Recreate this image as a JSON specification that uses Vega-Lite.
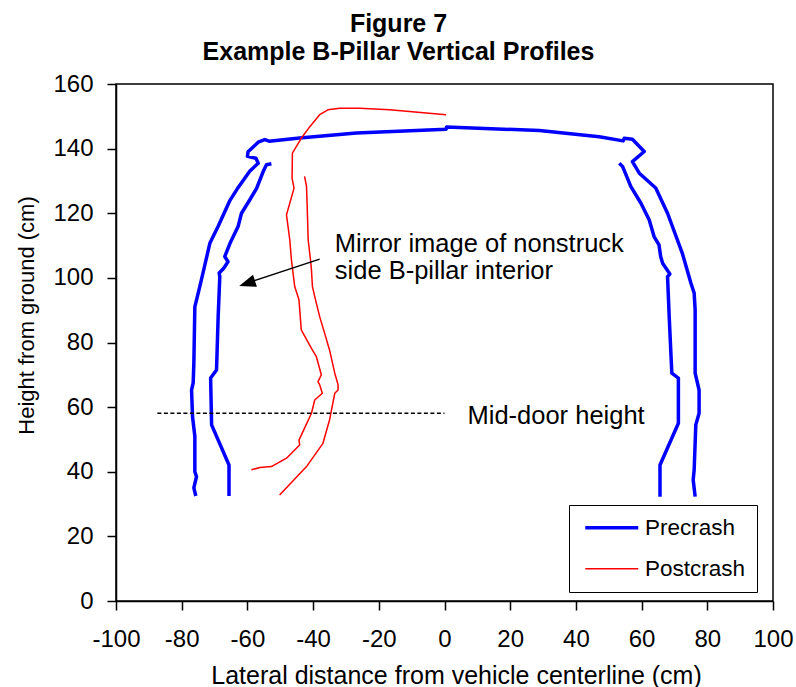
{
  "$schema": "https://vega.github.io/schema/vega-lite/v6.json",
  "autosize": {"type": "none"},
  "padding": {"left": 116, "top": 84, "right": 23, "bottom": 86},
  "width": 657,
  "height": 517,
  "background": "white",
  "title": {
    "text": ["Figure 7", "Example B-Pillar Vertical Profiles"],
    "font": "Liberation Sans",
    "fontSize": 25,
    "fontWeight": "bold",
    "color": "black",
    "anchor": "middle",
    "frame": "group",
    "dx": -46,
    "offset": 7,
    "lineHeight": 28
  },
  "config": {
    "view": {"stroke": "black", "strokeWidth": 1.5},
    "font": "Liberation Sans",
    "axis": {
      "domainColor": "black",
      "domainWidth": 1.5,
      "tickColor": "black",
      "tickWidth": 1.5,
      "tickSize": 9,
      "grid": false,
      "labelFont": "Liberation Sans",
      "labelFontSize": 24,
      "labelColor": "black",
      "labelOverlap": false,
      "labelFlush": false,
      "titleFont": "Liberation Sans",
      "titleFontWeight": "normal",
      "titleColor": "black"
    },
    "legend": {
      "labelFont": "Liberation Sans",
      "labelFontSize": 22.5,
      "labelColor": "black"
    }
  },
  "datasets": {
    "curves": [
      {"series": "Precrash", "seg": "outer", "x": -75.7, "y": 32.5},
      {"series": "Precrash", "seg": "outer", "x": -76.3, "y": 35},
      {"series": "Precrash", "seg": "outer", "x": -75.5, "y": 38.5},
      {"series": "Precrash", "seg": "outer", "x": -76, "y": 40},
      {"series": "Precrash", "seg": "outer", "x": -76, "y": 51},
      {"series": "Precrash", "seg": "outer", "x": -76.7, "y": 57},
      {"series": "Precrash", "seg": "outer", "x": -77, "y": 65.3},
      {"series": "Precrash", "seg": "outer", "x": -76.5, "y": 67.5},
      {"series": "Precrash", "seg": "outer", "x": -76.3, "y": 73.7},
      {"series": "Precrash", "seg": "outer", "x": -76, "y": 91},
      {"series": "Precrash", "seg": "outer", "x": -74.5, "y": 97.3},
      {"series": "Precrash", "seg": "outer", "x": -73.3, "y": 102.5},
      {"series": "Precrash", "seg": "outer", "x": -71.4, "y": 110.8},
      {"series": "Precrash", "seg": "outer", "x": -68.9, "y": 116},
      {"series": "Precrash", "seg": "outer", "x": -65.3, "y": 124},
      {"series": "Precrash", "seg": "outer", "x": -62.8, "y": 128},
      {"series": "Precrash", "seg": "outer", "x": -59.3, "y": 133},
      {"series": "Precrash", "seg": "outer", "x": -56.7, "y": 135.5},
      {"series": "Precrash", "seg": "outer", "x": -57.4, "y": 137},
      {"series": "Precrash", "seg": "outer", "x": -60, "y": 137.6},
      {"series": "Precrash", "seg": "outer", "x": -59.8, "y": 139},
      {"series": "Precrash", "seg": "outer", "x": -56.7, "y": 142},
      {"series": "Precrash", "seg": "outer", "x": -54.7, "y": 142.8},
      {"series": "Precrash", "seg": "outer", "x": -53.4, "y": 142.3},
      {"series": "Precrash", "seg": "outer", "x": -44.1, "y": 143.3},
      {"series": "Precrash", "seg": "outer", "x": -26.8, "y": 144.8},
      {"series": "Precrash", "seg": "outer", "x": 0.5, "y": 146.0},
      {"series": "Precrash", "seg": "outer", "x": 0.6, "y": 146.7},
      {"series": "Precrash", "seg": "outer", "x": 28.9, "y": 145.6},
      {"series": "Precrash", "seg": "outer", "x": 47.1, "y": 143.7},
      {"series": "Precrash", "seg": "outer", "x": 54.4, "y": 142.4},
      {"series": "Precrash", "seg": "outer", "x": 54.7, "y": 143.2},
      {"series": "Precrash", "seg": "outer", "x": 57.2, "y": 142.9},
      {"series": "Precrash", "seg": "outer", "x": 60.8, "y": 139.1},
      {"series": "Precrash", "seg": "outer", "x": 57.2, "y": 136},
      {"series": "Precrash", "seg": "outer", "x": 59.3, "y": 132.4},
      {"series": "Precrash", "seg": "outer", "x": 64.3, "y": 127.8},
      {"series": "Precrash", "seg": "outer", "x": 67.9, "y": 120},
      {"series": "Precrash", "seg": "outer", "x": 72.4, "y": 107.6},
      {"series": "Precrash", "seg": "outer", "x": 75, "y": 98.4},
      {"series": "Precrash", "seg": "outer", "x": 76, "y": 95.3},
      {"series": "Precrash", "seg": "outer", "x": 76.3, "y": 90.1},
      {"series": "Precrash", "seg": "outer", "x": 76.3, "y": 70.5},
      {"series": "Precrash", "seg": "outer", "x": 77.5, "y": 65.3},
      {"series": "Precrash", "seg": "outer", "x": 77.5, "y": 58.1},
      {"series": "Precrash", "seg": "outer", "x": 76.5, "y": 54.5},
      {"series": "Precrash", "seg": "outer", "x": 76, "y": 40.6},
      {"series": "Precrash", "seg": "outer", "x": 75.7, "y": 37.5},
      {"series": "Precrash", "seg": "outer", "x": 76.3, "y": 32.3},

      {"series": "Precrash", "seg": "innerL", "x": -65.6, "y": 32.5},
      {"series": "Precrash", "seg": "innerL", "x": -65.6, "y": 42.1},
      {"series": "Precrash", "seg": "innerL", "x": -70.9, "y": 54.5},
      {"series": "Precrash", "seg": "innerL", "x": -71.2, "y": 69},
      {"series": "Precrash", "seg": "innerL", "x": -69.4, "y": 71.5},
      {"series": "Precrash", "seg": "innerL", "x": -68.9, "y": 88},
      {"series": "Precrash", "seg": "innerL", "x": -68.4, "y": 100.4},
      {"series": "Precrash", "seg": "innerL", "x": -68.6, "y": 101.5},
      {"series": "Precrash", "seg": "innerL", "x": -67.2, "y": 103},
      {"series": "Precrash", "seg": "innerL", "x": -65.9, "y": 105},
      {"series": "Precrash", "seg": "innerL", "x": -66.9, "y": 106.6},
      {"series": "Precrash", "seg": "innerL", "x": -65.3, "y": 110.7},
      {"series": "Precrash", "seg": "innerL", "x": -62.8, "y": 116},
      {"series": "Precrash", "seg": "innerL", "x": -61.8, "y": 120},
      {"series": "Precrash", "seg": "innerL", "x": -59.3, "y": 124.1},
      {"series": "Precrash", "seg": "innerL", "x": -57.2, "y": 127.7},
      {"series": "Precrash", "seg": "innerL", "x": -55.2, "y": 132.9},
      {"series": "Precrash", "seg": "innerL", "x": -54.2, "y": 135},
      {"series": "Precrash", "seg": "innerL", "x": -52.7, "y": 135.3},

      {"series": "Precrash", "seg": "innerR", "x": 53.2, "y": 135.5},
      {"series": "Precrash", "seg": "innerR", "x": 54.2, "y": 134.5},
      {"series": "Precrash", "seg": "innerR", "x": 56.7, "y": 128.3},
      {"series": "Precrash", "seg": "innerR", "x": 59.8, "y": 123.1},
      {"series": "Precrash", "seg": "innerR", "x": 62.3, "y": 118},
      {"series": "Precrash", "seg": "innerR", "x": 63.8, "y": 112.8},
      {"series": "Precrash", "seg": "innerR", "x": 65.3, "y": 110.2},
      {"series": "Precrash", "seg": "innerR", "x": 65.8, "y": 106.6},
      {"series": "Precrash", "seg": "innerR", "x": 66.4, "y": 104.5},
      {"series": "Precrash", "seg": "innerR", "x": 68.6, "y": 101.2},
      {"series": "Precrash", "seg": "innerR", "x": 67.9, "y": 100.4},
      {"series": "Precrash", "seg": "innerR", "x": 68.4, "y": 88},
      {"series": "Precrash", "seg": "innerR", "x": 69.2, "y": 70.5},
      {"series": "Precrash", "seg": "innerR", "x": 71.2, "y": 69},
      {"series": "Precrash", "seg": "innerR", "x": 71.2, "y": 55},
      {"series": "Precrash", "seg": "innerR", "x": 65.6, "y": 42.1},
      {"series": "Precrash", "seg": "innerR", "x": 65.6, "y": 32.3},

      {"series": "Postcrash", "seg": "red1", "x": -58.8, "y": 40.6},
      {"series": "Postcrash", "seg": "red1", "x": -56.2, "y": 41.3},
      {"series": "Postcrash", "seg": "red1", "x": -52.7, "y": 41.6},
      {"series": "Postcrash", "seg": "red1", "x": -48.1, "y": 44.2},
      {"series": "Postcrash", "seg": "red1", "x": -44.1, "y": 48.3},
      {"series": "Postcrash", "seg": "red1", "x": -44.3, "y": 49.8},
      {"series": "Postcrash", "seg": "red1", "x": -42.6, "y": 53.5},
      {"series": "Postcrash", "seg": "red1", "x": -40.5, "y": 58.1},
      {"series": "Postcrash", "seg": "red1", "x": -39.5, "y": 62.2},
      {"series": "Postcrash", "seg": "red1", "x": -37.2, "y": 64.3},
      {"series": "Postcrash", "seg": "red1", "x": -38, "y": 66.9},
      {"series": "Postcrash", "seg": "red1", "x": -38.5, "y": 67.9},
      {"series": "Postcrash", "seg": "red1", "x": -37.5, "y": 70},
      {"series": "Postcrash", "seg": "red1", "x": -39, "y": 75.6},
      {"series": "Postcrash", "seg": "red1", "x": -40.5, "y": 78.2},
      {"series": "Postcrash", "seg": "red1", "x": -43.6, "y": 83.9},
      {"series": "Postcrash", "seg": "red1", "x": -44.3, "y": 93.2},
      {"series": "Postcrash", "seg": "red1", "x": -45.6, "y": 97.3},
      {"series": "Postcrash", "seg": "red1", "x": -46.6, "y": 105.6},
      {"series": "Postcrash", "seg": "red1", "x": -47.1, "y": 111.8},
      {"series": "Postcrash", "seg": "red1", "x": -48.1, "y": 119.5},
      {"series": "Postcrash", "seg": "red1", "x": -47.1, "y": 123.1},
      {"series": "Postcrash", "seg": "red1", "x": -46.1, "y": 126.7},
      {"series": "Postcrash", "seg": "red1", "x": -45.8, "y": 127.8},
      {"series": "Postcrash", "seg": "red1", "x": -46.4, "y": 130.8},
      {"series": "Postcrash", "seg": "red1", "x": -46.3, "y": 138.6},
      {"series": "Postcrash", "seg": "red1", "x": -43.6, "y": 143.2},
      {"series": "Postcrash", "seg": "red1", "x": -41, "y": 146.8},
      {"series": "Postcrash", "seg": "red1", "x": -38, "y": 150.5},
      {"series": "Postcrash", "seg": "red1", "x": -35.5, "y": 152},
      {"series": "Postcrash", "seg": "red1", "x": -31.9, "y": 152.5},
      {"series": "Postcrash", "seg": "red1", "x": -25.8, "y": 152.5},
      {"series": "Postcrash", "seg": "red1", "x": -16.7, "y": 152},
      {"series": "Postcrash", "seg": "red1", "x": 0.5, "y": 150.5},

      {"series": "Postcrash", "seg": "red2", "x": -42.6, "y": 131.4},
      {"series": "Postcrash", "seg": "red2", "x": -42, "y": 128.3},
      {"series": "Postcrash", "seg": "red2", "x": -41.8, "y": 122.1},
      {"series": "Postcrash", "seg": "red2", "x": -41.5, "y": 111.8},
      {"series": "Postcrash", "seg": "red2", "x": -40.8, "y": 105.6},
      {"series": "Postcrash", "seg": "red2", "x": -40.5, "y": 102.5},
      {"series": "Postcrash", "seg": "red2", "x": -40.2, "y": 97.3},
      {"series": "Postcrash", "seg": "red2", "x": -39.5, "y": 94.2},
      {"series": "Postcrash", "seg": "red2", "x": -38, "y": 88},
      {"series": "Postcrash", "seg": "red2", "x": -36.5, "y": 82.9},
      {"series": "Postcrash", "seg": "red2", "x": -35, "y": 77.7},
      {"series": "Postcrash", "seg": "red2", "x": -33.4, "y": 70.5},
      {"series": "Postcrash", "seg": "red2", "x": -32.4, "y": 66.9},
      {"series": "Postcrash", "seg": "red2", "x": -32.4, "y": 65.3},
      {"series": "Postcrash", "seg": "red2", "x": -33.4, "y": 64.3},
      {"series": "Postcrash", "seg": "red2", "x": -35, "y": 56},
      {"series": "Postcrash", "seg": "red2", "x": -37, "y": 48.8},
      {"series": "Postcrash", "seg": "red2", "x": -42, "y": 41.6},
      {"series": "Postcrash", "seg": "red2", "x": -50.2, "y": 32.8}
    ]
  },
  "layer": [
    {
      "data": {"name": "curves"},
      "mark": {"type": "line", "strokeJoin": "round", "strokeCap": "butt"},
      "encoding": {
        "x": {
          "field": "x", "type": "quantitative",
          "scale": {"domain": [-100, 100], "nice": false, "zero": false},
          "axis": {
            "title": "Lateral distance from vehicle centerline  (cm)",
            "values": [-100, -90, -80, -70, -60, -50, -40, -30, -20, -10, 0, 10, 20, 30, 40, 50, 60, 70, 80, 90, 100],
            "labelExpr": "datum.value % 20 == 0 ? '' + datum.value : ''",
            "labelPadding": 17,
            "titleFontSize": 25,
            "titleX": 340,
            "titleY": 74,
            "titleAlign": "center",
            "titleBaseline": "middle"
          }
        },
        "y": {
          "field": "y", "type": "quantitative",
          "scale": {"domain": [0, 160], "nice": false, "zero": false},
          "axis": {
            "title": "Height from ground (cm)",
            "values": [0, 10, 20, 30, 40, 50, 60, 70, 80, 90, 100, 110, 120, 130, 140, 150, 160],
            "labelExpr": "datum.value % 20 == 0 ? '' + datum.value : ''",
            "labelPadding": 14,
            "titleFontSize": 22,
            "titleX": -90,
            "titleY": 231,
            "titleAlign": "center",
            "titleBaseline": "middle",
            "titleAngle": -90
          }
        },
        "color": {
          "field": "series", "type": "nominal",
          "scale": {"domain": ["Precrash", "Postcrash"], "range": ["#0000FF", "#FF0000"]},
          "legend": {
            "title": null,
            "orient": "none",
            "legendX": 453,
            "legendY": 421,
            "symbolType": "M-5.3,0H5.3",
            "symbolSize": 100,
            "symbolOffset": 20,
            "strokeColor": "black",
            "fillColor": "white",
            "padding": 11.5,
            "rowPadding": 18,
            "labelOffset": 22
          }
        },
        "strokeWidth": {
          "field": "series", "type": "nominal",
          "scale": {"domain": ["Precrash", "Postcrash"], "range": [3.5, 1.5]},
          "legend": {
            "title": null,
            "orient": "none",
            "legendX": 453,
            "legendY": 421,
            "symbolType": "M-5.3,0H5.3",
            "symbolSize": 100,
            "symbolOffset": 20,
            "strokeColor": "black",
            "fillColor": "white",
            "padding": 11.5,
            "rowPadding": 18,
            "labelOffset": 22
          }
        },
        "detail": {"field": "seg"},
        "order": {"value": null}
      }
    },
    {
      "data": {"values": [{"x": -87.4, "x2": 0, "y": 58.1}]},
      "mark": {"type": "rule", "color": "black", "strokeWidth": 1.3, "strokeDash": [4, 2.5]},
      "encoding": {
        "x": {"field": "x", "type": "quantitative"},
        "x2": {"field": "x2"},
        "y": {"field": "y", "type": "quantitative"}
      }
    },
    {
      "data": {"values": [{"x": -38, "y": 105.8, "x2": -59, "y2": 98.8}]},
      "mark": {"type": "rule", "color": "black", "strokeWidth": 1.5},
      "encoding": {
        "x": {"field": "x", "type": "quantitative"},
        "y": {"field": "y", "type": "quantitative"},
        "x2": {"field": "x2"},
        "y2": {"field": "y2"}
      }
    },
    {
      "data": {"values": [{"x": -62.5, "y": 97.5}]},
      "mark": {"type": "point", "filled": true, "color": "black", "opacity": 1, "shape": "M0,0L-0.38,1L0.38,1Z", "angle": 252, "size": 1100},
      "encoding": {
        "x": {"field": "x", "type": "quantitative"},
        "y": {"field": "y", "type": "quantitative"}
      }
    },
    {
      "data": {"values": [
        {"x": -33.4, "y": 110.5, "label": "Mirror image of nonstruck"},
        {"x": -33.4, "y": 102.2, "label": "side B-pillar interior"},
        {"x": 7, "y": 57.2, "label": "Mid-door height"}
      ]},
      "mark": {"type": "text", "align": "left", "baseline": "middle", "font": "Liberation Sans", "fontSize": 25.5, "color": "black"},
      "encoding": {
        "x": {"field": "x", "type": "quantitative"},
        "y": {"field": "y", "type": "quantitative"},
        "text": {"field": "label"}
      }
    }
  ]
}
